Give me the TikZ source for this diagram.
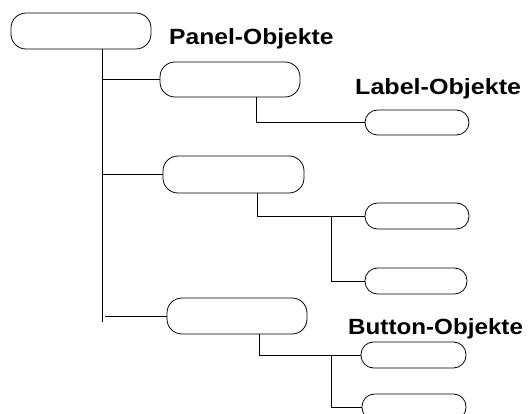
\documentclass[tikz,border=0pt]{standalone}
\usepackage{fontspec}
\setmainfont{Liberation Sans}
\begin{document}
\begin{tikzpicture}[x=1pt,y=-1pt,
  obj/.style={draw,line width=0.8pt,rounded corners=15pt,minimum width=140pt,minimum height=36pt,inner sep=0pt},
  sub/.style={draw,line width=0.8pt,rounded corners=12.5pt,minimum width=104pt,minimum height=26pt,inner sep=0pt},
  conn/.style={line width=0.8pt},
  lbl/.style={anchor=base west,inner sep=0pt,font=\fontsize{22}{26}\selectfont\bfseries}]
\useasboundingbox (0,0) rectangle (528,414);
\clip (0,0) rectangle (528,414);
% main boxes
\node[obj] (root) at (81,31) {};
\node[obj,minimum height=35pt] (p1) at (230,79.5) {};
\node[obj,minimum width=141pt,minimum height=37pt] (p2) at (233.5,174.5) {};
\node[obj] (p3) at (237,316) {};
% sub boxes
\node[sub,minimum height=25pt] (l1) at (417,122.5) {};
\node[sub] (l2a) at (417,216) {};
\node[sub,minimum width=102pt] (l2b) at (416,281) {};
\node[sub,minimum width=105pt] (b1) at (413.5,355) {};
\node[sub] (b2) at (414,407) {};
% labels
\node[lbl] (tp) at (169,45) {\scalebox{1.12}[1]{Panel-Objekte}};
\node[lbl] (tl) at (355,95) {\scalebox{1.14}[1]{Label-Objekte}};
\node[lbl] (tb) at (348,335) {\scalebox{1.1}[1]{Button-Objekte}};
% connector columns
\coordinate (trunk) at (102,0);
\coordinate (tend) at (102,322);
\coordinate (c1) at (256,0);
\coordinate (c2) at (257,0);
\coordinate (c3) at (259,0);
\coordinate (d2) at (331,0);
\coordinate (d3) at (331,0);
% trunk and branches
\draw[conn] (trunk |- root.south) -- (tend);
\draw[conn] (trunk |- p1.west) -- (p1.west);
\draw[conn] (trunk |- p2.west) -- (p2.west);
\draw[conn] ([xshift=3pt]trunk |- p3.west) -- (p3.west);
% sub branches
\draw[conn] (c1 |- p1.south) |- (l1.west);
\draw[conn] (c2 |- p2.south) |- (l2a.west);
\draw[conn] (d2 |- l2a.west) |- (l2b.west);
\draw[conn] (c3 |- p3.south) |- (b1.west);
\draw[conn] (d3 |- b1.west) |- (b2.west);
\end{tikzpicture}
\end{document}
